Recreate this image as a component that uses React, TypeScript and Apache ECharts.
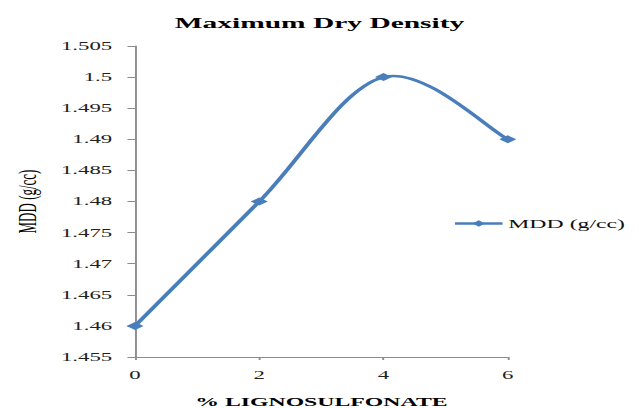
import React, { useEffect, useRef } from "react";
import * as echarts from "echarts";

// % lignosulfonate added vs. maximum dry density
const lignosulfonate = [0, 2, 4, 6];
const mdd = [1.46, 1.48, 1.5, 1.49];
const seriesName = "MDD (g/cc)";
const chartTitle = "Maximum Dry Density";
const xName = "% LIGNOSULFONATE";
const yName = "MDD (g/cc)";

// The chart is laid out in a narrow box and stretched sideways to fill the page.
const PAGE_W = 639;
const PAGE_H = 408;
const INNER_W = 336;
const STRETCH = PAGE_W / INNER_W;

const SERIF = "'Liberation Serif', 'Times New Roman', serif";
const BLUE = "#4a7ebb";
const AXIS = "#8c8c8c";

// Cardinal-spline segment (tangent = (next - prev) / 6) drawn as a cubic bezier
function renderSmoothSegment(params: any, api: any) {
  const i = params.dataIndex;
  const n = lignosulfonate.length;
  if (i >= n - 1) return null;
  const pt = (k: number) => {
    const j = Math.max(0, Math.min(n - 1, k));
    return api.coord([lignosulfonate[j], mdd[j]]);
  };
  const p0 = pt(i - 1);
  const p1 = pt(i);
  const p2 = pt(i + 1);
  const p3 = pt(i + 2);
  return {
    type: "bezierCurve",
    shape: {
      x1: p1[0],
      y1: p1[1],
      cpx1: p1[0] + (p2[0] - p0[0]) / 6,
      cpy1: p1[1] + (p2[1] - p0[1]) / 6,
      cpx2: p2[0] - (p3[0] - p1[0]) / 6,
      cpy2: p2[1] - (p3[1] - p1[1]) / 6,
      x2: p2[0],
      y2: p2[1],
    },
    style: { stroke: BLUE, lineWidth: 2.5, fill: "none", lineCap: "round" },
  };
}

export default function App() {
  const ref = useRef<HTMLDivElement>(null);

  useEffect(() => {
    if (!ref.current) return;
    const chart = echarts.init(ref.current, null, { renderer: "svg" });
    const points = lignosulfonate.map((x, i) => [x, mdd[i]]);
    chart.setOption({
      animation: false,
      backgroundColor: "#ffffff",
      title: {
        text: chartTitle,
        left: "center",
        top: 10,
        padding: [5, 12, 5, 5],
        textStyle: {
          fontFamily: SERIF,
          fontWeight: "bold",
          fontSize: 15.5,
          color: "#000",
        },
      },
      legend: {
        left: 238,
        top: 217,
        padding: 0,
        itemWidth: 25,
        itemHeight: 8,
        itemGap: 0,
        lineStyle: { opacity: 1, width: 2.5, color: BLUE },
        textStyle: { fontFamily: SERIF, fontSize: 12.5, color: "#111", padding: [0, 0, 0, -2] },
        data: [seriesName],
      },
      grid: { left: 71, right: 69, top: 46, bottom: 51, outerBoundsMode: "none", containLabel: false },
      xAxis: {
        type: "value",
        min: 0,
        max: 6,
        interval: 2,
        name: xName,
        nameLocation: "middle",
        nameGap: 38,
        nameTextStyle: { fontFamily: SERIF, fontWeight: "bold", fontSize: 12.5, color: "#000" },
        axisLine: { show: true, lineStyle: { color: AXIS, width: 1 } },
        axisTick: { show: true, length: 3, lineStyle: { color: AXIS } },
        axisLabel: { margin: 12, fontFamily: SERIF, fontSize: 12, color: "#222" },
        splitLine: { show: false },
      },
      yAxis: {
        type: "value",
        min: 1.455,
        max: 1.505,
        interval: 0.005,
        name: yName,
        nameLocation: "middle",
        nameRotate: 90,
        nameGap: 50,
        nameTextStyle: { fontFamily: SERIF, fontSize: 13, color: "#000" },
        axisLine: { show: true, lineStyle: { color: AXIS, width: 1 } },
        axisTick: { show: true, length: 4, lineStyle: { color: AXIS } },
        axisLabel: {
          margin: 12,
          fontFamily: SERIF,
          fontSize: 12,
          color: "#222",
          formatter: (v: number) => String(+v.toFixed(3)),
        },
        splitLine: { show: false },
      },
      series: [
        {
          // smoothed curve through the measured points
          type: "custom",
          data: points,
          encode: { x: 0, y: 1 },
          renderItem: renderSmoothSegment,
          silent: true,
          z: 1,
        },
        {
          // markers (and legend entry)
          name: seriesName,
          type: "line",
          data: points,
          symbol: "diamond",
          symbolSize: [9, 8],
          lineStyle: { color: BLUE, width: 2.5, opacity: 0 },
          itemStyle: { color: BLUE },
          z: 2,
        },
      ],
    });
    return () => chart.dispose();
  }, []);

  return (
    <div
      style={{
        position: "absolute",
        left: 0,
        top: 0,
        width: PAGE_W,
        height: PAGE_H,
        overflow: "hidden",
        background: "#fff",
      }}
    >
      <div
        ref={ref}
        style={{
          width: INNER_W,
          height: PAGE_H,
          transform: `scaleX(${STRETCH})`,
          transformOrigin: "0 0",
        }}
      />
    </div>
  );
}
